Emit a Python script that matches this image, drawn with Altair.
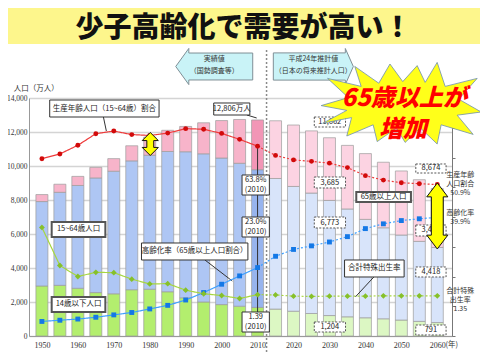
import altair as alt
import pandas as pd

FONT = "Noto Sans CJK JP"
NUM_FONT = "Liberation Sans Narrow"

# ---------------- data ----------------
years = [1950, 1955, 1960, 1965, 1970, 1975, 1980, 1985, 1990, 1995, 2000, 2005, 2010,
         2015, 2020, 2025, 2030, 2035, 2040, 2045, 2050, 2055, 2060]
young = [2943, 2980, 2807, 2553, 2482, 2722, 2751, 2603, 2249, 2001, 1847, 1752, 1680,
         1583, 1457, 1324, 1204, 1129, 1073, 1012, 939, 861, 791]
work = [4966, 5473, 6047, 6744, 7212, 7581, 7883, 8251, 8590, 8716, 8622, 8409, 8103,
        7682, 7341, 7085, 6773, 6343, 5787, 5353, 5001, 4706, 4418]
old = [411, 475, 535, 624, 739, 887, 1065, 1247, 1489, 1826, 2204, 2576, 2925,
       3395, 3612, 3657, 3685, 3741, 3868, 3856, 3768, 3626, 3464]
working_pct = [59.6, 61.2, 64.1, 68.0, 68.9, 67.7, 67.4, 68.2, 69.7, 69.5, 68.1, 66.1, 63.8,
               60.7, 59.2, 58.7, 58.1, 56.6, 53.9, 52.4, 51.5, 51.2, 50.9]
aging_pct = [4.9, 5.3, 5.7, 6.3, 7.1, 7.9, 9.1, 10.3, 12.1, 14.6, 17.4, 20.2, 23.0,
             26.8, 29.1, 30.3, 31.6, 33.4, 36.1, 37.7, 38.8, 39.4, 39.9]
tfr = [3.65, 2.37, 2.00, 2.14, 2.13, 1.91, 1.75, 1.76, 1.54, 1.42, 1.36, 1.26, 1.39,
       1.38, 1.34, 1.33, 1.34, 1.34, 1.34, 1.35, 1.35, 1.35, 1.35]
BASE_YEAR = 2010

X_DOM = [1947.8, 2062.7]
Y_DOM = [0, 14000]
P_DOM = [0, 80]


def xs():
    return alt.Scale(domain=X_DOM, nice=False, zero=False)


def ys():
    return alt.Scale(domain=Y_DOM, nice=False, zero=False)


X_AXIS = alt.Axis(values=list(range(1950, 2061, 10)), format="d", grid=False, ticks=False,
                  labelPadding=5, labelFontSize=8, labelFont=NUM_FONT, labelColor="#333",
                  domainColor="#999", title=None)
Y_AXIS = alt.Axis(values=list(range(0, 14001, 2000)), format=",d", grid=True,
                  gridColor="#d4d4d4", gridWidth=1.5, ticks=False,
                  domainColor="#999", labelFontSize=7.5, labelFont=NUM_FONT, labelColor="#333",
                  labelPadding=2, title=None)
R_AXIS = alt.Axis(orient="right", values=list(range(0, 81, 10)), labels=False, ticks=True,
                  tickSize=3, tickColor="#777", domainColor="#777", grid=False, title=None)


def period(y):
    return "a" if y < BASE_YEAR else ("h" if y == BASE_YEAR else "p")


# ---------------- bars ----------------
rows = []
for i, yr in enumerate(years):
    for o, (g, arr) in enumerate([("young", young), ("work", work), ("old", old)]):
        rows.append({"year": yr, "val": arr[i], "ord": o, "key": g + "_" + period(yr)})
bdf = pd.DataFrame(rows)

keys = ["young_a", "young_h", "young_p", "work_a", "work_h", "work_p", "old_a", "old_h", "old_p"]
cols = ["#b3ee6e", "#b0ea6a", "#dcf7c3", "#aec6f4", "#97b4ee", "#d8e4fa", "#f7b4ca", "#f296b6", "#fcd3e2"]

bars = alt.Chart(bdf).mark_bar(size=12, stroke="#9c9c9c", strokeWidth=0.7).encode(
    x=alt.X("year:Q", scale=xs(), axis=X_AXIS, title=None),
    y=alt.Y("val:Q", stack="zero", scale=ys(), axis=Y_AXIS, title=None),
    color=alt.Color("key:N", scale=alt.Scale(domain=keys, range=cols), legend=None),
    order=alt.Order("ord:Q"),
)


# ---------------- annotations (data coordinates: year, 万人) ----------------
def enc_rect():
    return dict(x=alt.X("x:Q", scale=xs(), axis=X_AXIS, title=None), x2="x2:Q",
                y=alt.Y("y:Q", scale=ys(), axis=Y_AXIS, title=None), y2="y2:Q")


def enc_pt():
    return dict(x=alt.X("x:Q", scale=xs(), axis=X_AXIS, title=None),
                y=alt.Y("y:Q", scale=ys(), axis=Y_AXIS, title=None))


band = alt.Chart(pd.DataFrame([{"x": 1939.9, "x2": 2072.6, "y": 17176, "y2": 19800}])).mark_rect(
    color="#fdf68c").encode(**enc_rect())
title_txt = alt.Chart(pd.DataFrame([{"x": 2006.1, "y": 18050, "t": "少子高齢化で需要が高い！"}])).mark_text(
    fontSize=28, fontWeight=900, color="#111", baseline="middle").encode(text="t:N", **enc_pt())

thin_boxes = pd.DataFrame([
    {"x": 1952.17, "x2": 1982.59, "y": 12882, "y2": 13882},
    {"x": 1997.80, "x2": 2007.85, "y": 13000, "y2": 13706},
    {"x": 2005.68, "x2": 2013.28, "y": 8294, "y2": 9471},
    {"x": 2005.68, "x2": 2013.28, "y": 5824, "y2": 7000},
    {"x": 2005.68, "x2": 2013.28, "y": 235, "y2": 1412},
    {"x": 2034.20, "x2": 2050.77, "y": 3471, "y2": 4471},
    {"x": 1977.70, "x2": 2007.31, "y": 4471, "y2": 5471},
])
thick_boxes = pd.DataFrame([
    {"x": 1952.72, "x2": 1967.65, "y": 5824, "y2": 6706},
    {"x": 1952.72, "x2": 1967.65, "y": 1412, "y2": 2294},
    {"x": 2037.46, "x2": 2052.67, "y": 7882, "y2": 8471},
])
dash_boxes = pd.DataFrame([
    {"x": 2025.78, "x2": 2034.47, "y": 12294, "y2": 12882},
    {"x": 2025.78, "x2": 2034.47, "y": 8706, "y2": 9353},
    {"x": 2025.78, "x2": 2034.47, "y": 6353, "y2": 7000},
    {"x": 2025.78, "x2": 2034.47, "y": 235, "y2": 824},
    {"x": 2054.02, "x2": 2062.44, "y": 9588, "y2": 10118},
    {"x": 2054.02, "x2": 2062.44, "y": 5882, "y2": 6529},
    {"x": 2054.02, "x2": 2062.44, "y": 3471, "y2": 4059},
    {"x": 2054.02, "x2": 2062.44, "y": 59, "y2": 647},
])
box_texts = pd.DataFrame([
    {"x": 1967.38, "y": 13382, "t": "生産年齢人口（15~64歳）割合"},
    {"x": 2002.83, "y": 13353, "t": "12,806万人"},
    {"x": 2009.48, "y": 9177, "t": "63.8%"}, {"x": 2009.48, "y": 8588, "t": "(2010)"},
    {"x": 2009.48, "y": 6706, "t": "23.0%"}, {"x": 2009.48, "y": 6117, "t": "(2010)"},
    {"x": 2009.48, "y": 1118, "t": "1.39"}, {"x": 2009.48, "y": 529, "t": "(2010)"},
    {"x": 2042.48, "y": 3971, "t": "合計特殊出生率"},
    {"x": 1992.51, "y": 4971, "t": "高齢化率（65歳以上人口割合）"},
    {"x": 1960.19, "y": 6265, "t": "15~64歳人口"},
    {"x": 1960.19, "y": 1853, "t": "14歳以下人口"},
    {"x": 2045.06, "y": 8176, "t": "65歳以上人口"},
    {"x": 2030.1, "y": 12588, "t": "11,662"}, {"x": 2030.1, "y": 9029, "t": "3,685"},
    {"x": 2030.1, "y": 6676, "t": "6,773"}, {"x": 2030.1, "y": 529, "t": "1,204"},
    {"x": 2058.23, "y": 9853, "t": "8,674"}, {"x": 2058.23, "y": 6206, "t": "3,464"},
    {"x": 2058.23, "y": 3765, "t": "4,418"}, {"x": 2058.23, "y": 353, "t": "791"},
])
leaders = pd.DataFrame([
    {"x": 1967.11, "y": 12882, "x2": 1967.93, "y2": 12059},
    {"x": 2007.04, "y": 13000, "x2": 2009.75, "y2": 12824},
    {"x": 2010.0, "y": 11176, "x2": 2010.0, "y2": 1412},
    {"x": 2042.35, "y": 3471, "x2": 2037.19, "y2": 2294},
    {"x": 1995.36, "y": 4471, "x2": 2002.96, "y2": 3235},
])
sep = pd.DataFrame([{"x": 2012.5, "y": -1412, "y2": 16824}])

leader_l = alt.Chart(leaders).mark_rule(color="#333", strokeWidth=1).encode(**enc_rect())
sep_l = alt.Chart(sep).mark_rule(color="#8a8a8a", strokeWidth=1.5, strokeDash=[2, 2]).encode(
    y2="y2:Q", **enc_pt())
thin_l = alt.Chart(thin_boxes).mark_rect(fill="white", stroke="#333", strokeWidth=1).encode(**enc_rect())
thick_l = alt.Chart(thick_boxes).mark_rect(fill="white", stroke="#555", strokeWidth=2).encode(**enc_rect())
dash_l = alt.Chart(dash_boxes).mark_rect(fill="white", stroke="#555", strokeWidth=1,
                                         strokeDash=[2, 1.5]).encode(**enc_rect())
btxt_l = alt.Chart(box_texts).mark_text(fontSize=7.5, color="#222", baseline="middle").encode(
    text="t:N", **enc_pt())

# header arrow boxes
PATH_LEFT = "M-1,0L-0.66,-0.47L-0.66,-0.35L1,-0.35L1,0.35L-0.66,0.35L-0.66,0.47Z"
PATH_RIGHT = "M-1,-0.34L0.8,-0.34L0.8,-0.45L1,0L0.8,0.45L0.8,0.34L-1,0.34Z"
hdr_left = alt.Chart(pd.DataFrame([{"x": 1997.94, "y": 15853}])).mark_point(
    shape=PATH_LEFT, size=5929, filled=True, fill="#c9f3f7", stroke="#7f8f96", strokeWidth=1,
    opacity=1).encode(**enc_pt())
hdr_right = alt.Chart(pd.DataFrame([{"x": 2025.51, "y": 15853}])).mark_point(
    shape=PATH_RIGHT, size=6400, filled=True, fill="#c9f3f7", stroke="#7f8f96", strokeWidth=1,
    opacity=1).encode(**enc_pt())
hdr_txt = alt.Chart(pd.DataFrame([
    {"x": 1997.94, "y": 16265, "t": "実績値"},
    {"x": 1997.94, "y": 15559, "t": "（国勢調査等）"},
    {"x": 2025.51, "y": 16265, "t": "平成24年推計値"},
    {"x": 2025.51, "y": 15559, "t": "（日本の将来推計人口）"},
])).mark_text(fontSize=7, color="#333", baseline="middle").encode(text="t:N", **enc_pt())

side_txt = alt.Chart(pd.DataFrame([
    {"x": 2066.4, "y": 9471, "t": "生産年齢"}, {"x": 2066.4, "y": 8941, "t": "人口割合"},
    {"x": 2066.4, "y": 8412, "t": "50.9%"},
    {"x": 2066.4, "y": 7235, "t": "高齢化率"}, {"x": 2066.4, "y": 6706, "t": "39.9%"},
    {"x": 2066.4, "y": 2647, "t": "合計特殊"}, {"x": 2066.4, "y": 2118, "t": "出生率"},
    {"x": 2066.4, "y": 1588, "t": "1.35"},
])).mark_text(fontSize=7, color="#333", baseline="middle").encode(text="t:N", **enc_pt())

unit_txt = alt.Chart(pd.DataFrame([
    {"x": 1942.2, "y": 14529, "t": "人口（万人）"},
    {"x": 2062.3, "y": -529, "t": "(年)"},
])).mark_text(fontSize=7.5, color="#333", baseline="middle", align="left").encode(
    text="t:N", **enc_pt())

g1 = alt.layer(band, title_txt, bars, sep_l, leader_l, thin_l, thick_l, dash_l, btxt_l,
               hdr_left, hdr_right, hdr_txt, side_txt, unit_txt)

# ---------------- lines (right % axis) ----------------
series = [
    ("working", working_pct, 1.0, "#ee3b3b", "#d20a0a", "circle", 24),
    ("aging", aging_pct, 1.0, "#3fa0ff", "#1478e6", "square", 24),
    ("tfr", tfr, 10.0, "#a6d640", "#86c02a", "diamond", 34),
]
pscale = alt.Scale(domain=P_DOM, nice=False, zero=False)
g2_layers = []
for name, vals, mult, lc, pc, shp, sz in series:
    lrows = []
    for yr, v in zip(years, vals):
        if yr <= BASE_YEAR:
            lrows.append({"year": yr, "v": v * mult, "seg": "a"})
        if yr >= BASE_YEAR:
            lrows.append({"year": yr, "v": v * mult, "seg": "p"})
    ldf = pd.DataFrame(lrows)
    pdf = pd.DataFrame({"year": years, "v": [v * mult for v in vals]})
    ln = alt.Chart(ldf).mark_line(color=lc, strokeWidth=1.2).encode(
        x=alt.X("year:Q", scale=xs(), axis=X_AXIS, title=None),
        y=alt.Y("v:Q", scale=pscale, axis=R_AXIS, title=None),
        strokeDash=alt.StrokeDash("seg:N", scale=alt.Scale(domain=["a", "p"], range=[[1, 0], [2, 2]]),
                                  legend=None),
    )
    pt = alt.Chart(pdf).mark_point(shape=shp, size=sz, filled=True, color=pc, opacity=1).encode(
        x=alt.X("year:Q", scale=xs(), axis=X_AXIS, title=None),
        y=alt.Y("v:Q", scale=pscale, axis=R_AXIS, title=None),
    )
    g2_layers += [ln, pt]
g2 = alt.layer(*g2_layers)

# ---------------- top decorations ----------------
ARROW_TALL = "M0,-1L0.32,-0.58L0.18,-0.58L0.18,0.58L0.32,0.58L0,1L-0.32,0.58L-0.18,0.58L-0.18,-0.58L-0.32,-0.58Z"
ARROW_SHORT = "M0,-1L0.7,-0.3L0.3,-0.3L0.3,0.3L0.7,0.3L0,1L-0.7,0.3L-0.3,0.3L-0.3,-0.3L-0.7,-0.3Z"
STAR = ("M-1,0.02L-0.66,-0.08L-0.92,-0.32L-0.5,-0.22L-0.58,-0.47L-0.28,-0.26L-0.14,-0.5L0.02,-0.28"
        "L0.2,-0.48L0.3,-0.27L0.45,-0.52L0.55,-0.22L0.95,-0.32L0.72,-0.06L1,0.1L0.7,0.14L0.9,0.38"
        "L0.5,0.26L0.45,0.5L0.24,0.3L0.05,0.48L-0.06,0.3L-0.3,0.47L-0.35,0.26L-0.68,0.4L-0.62,0.17"
        "L-0.98,0.24L-0.68,0.08Z")

NOAX = dict(x=alt.X("x:Q", scale=xs(), axis=X_AXIS, title=None),
            y=alt.Y("y:Q", scale=ys(), axis=None))

arrow1 = alt.Chart(pd.DataFrame([{"x": 1980.15, "y": 11294}])).mark_point(
    shape=ARROW_SHORT, size=529, filled=True, fill="#ffff00", stroke="#111", strokeWidth=1,
    opacity=1).encode(**NOAX)
arrow2 = alt.Chart(pd.DataFrame([{"x": 2060.0, "y": 7059}])).mark_point(
    shape=ARROW_TALL, size=4356, filled=True, fill="#ffff00", stroke="#111", strokeWidth=1,
    opacity=1).encode(**NOAX)
star = alt.Chart(pd.DataFrame([{"x": 2049.95, "y": 13647}])).mark_point(
    shape=STAR, size=25600, filled=True, fill="#ffff1a", stroke="#6f8fb0", strokeWidth=0.8,
    opacity=1).encode(**NOAX)
star_txt = alt.Chart(pd.DataFrame([
    {"x": 2050.77, "y": 13940, "t": "65歳以上が"},
    {"x": 2050.49, "y": 12120, "t": "増加"},
])).mark_text(fontSize=24, fontWeight=900, fontStyle="italic", color="#ff0000",
              baseline="middle").encode(text="t:N", **NOAX)
g3 = alt.layer(arrow1, arrow2, star, star_txt)

chart = alt.layer(g1, g2, g3).resolve_scale(y="independent").properties(
    width=423, height=238, autosize="none",
    padding={"left": 21, "top": 90, "right": 28, "bottom": 16},
    background="white",
).configure(font=FONT).configure_view(stroke=None)

chart.save("out.html", embed_options={"renderer": "svg", "actions": False})
